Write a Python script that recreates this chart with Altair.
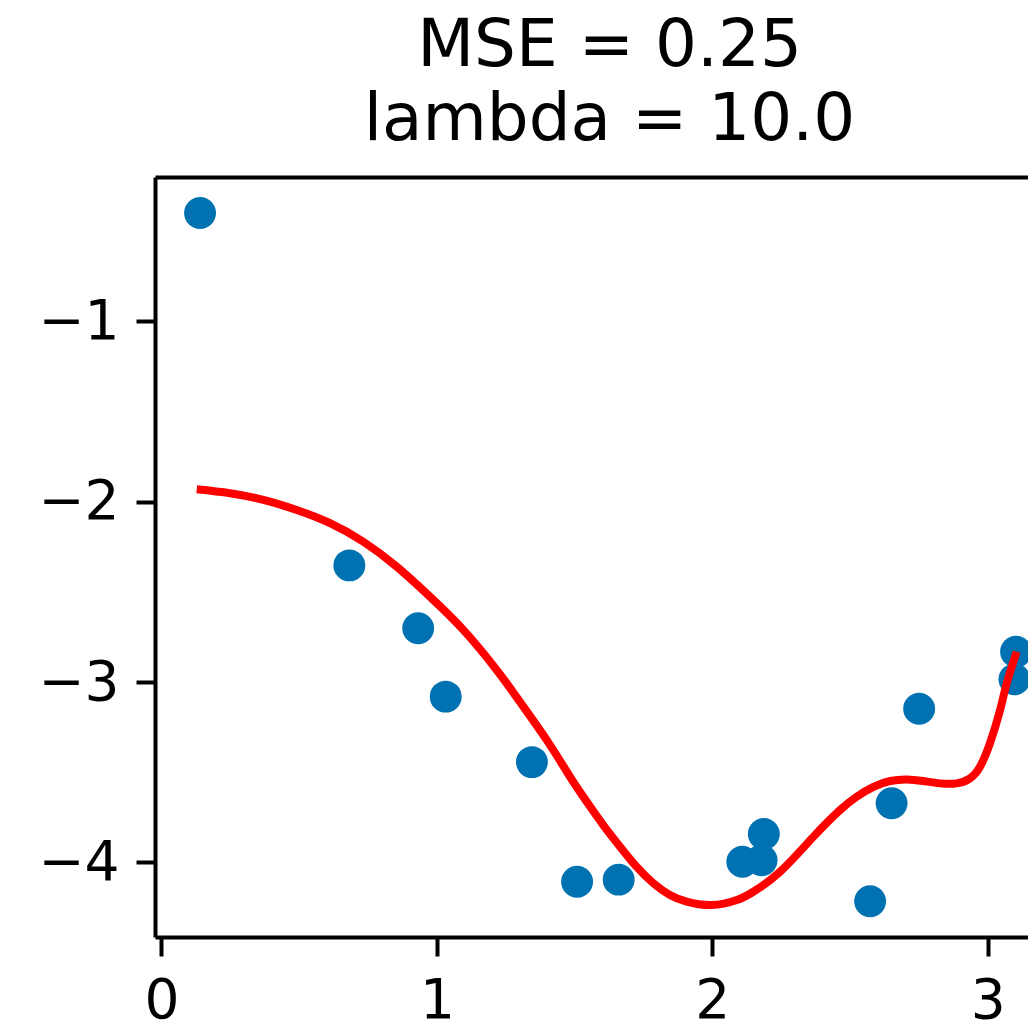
import altair as alt
import pandas as pd

# scatter points
pt_x = [0.140, 0.682, 0.932, 1.032, 1.345, 1.509, 1.660, 2.109, 2.187, 2.179,
        2.573, 2.651, 2.751, 3.103, 3.097]
pt_y = [-0.399, -2.353, -2.702, -3.081, -3.444, -4.108, -4.096, -3.997, -3.843, -3.988,
        -4.216, -3.672, -3.148, -2.832, -2.985]

# fitted curve
cv_x = [0.128, 0.249, 0.370, 0.491, 0.612, 0.733, 0.854, 0.975, 1.096, 1.217, 1.290,
        1.399, 1.483, 1.544, 1.604, 1.665, 1.725, 1.786, 1.846, 1.907, 1.998, 2.089,
        2.149, 2.246, 2.366, 2.464, 2.524, 2.585, 2.646, 2.706, 2.766, 2.827, 2.887,
        2.936, 2.972, 3.008, 3.045, 3.069, 3.105]
cv_y = [-1.931, -1.953, -1.990, -2.046, -2.119, -2.222, -2.360, -2.527, -2.711, -2.933,
        -3.085, -3.322, -3.525, -3.664, -3.793, -3.913, -4.024, -4.116, -4.181, -4.218,
        -4.237, -4.209, -4.163, -4.052, -3.860, -3.710, -3.636, -3.581, -3.549, -3.540,
        -3.549, -3.562, -3.562, -3.534, -3.470, -3.340, -3.155, -3.007, -2.832]

x_ticks = [0, 1, 2, 3]
y_ticks = [-1, -2, -3, -4]
title_lines = ["MSE = 0.25", "lambda = 10.0"]

x_domain = [-0.0236, 3.1463]
y_domain = [-4.414, -0.199]

pts = pd.DataFrame({"x": pt_x, "y": pt_y})
crv = pd.DataFrame({"x": cv_x, "y": cv_y})

FONT = "DejaVu Sans"

x_scale = alt.Scale(domain=x_domain, nice=False, zero=False)
y_scale = alt.Scale(domain=y_domain, nice=False, zero=False)

x_axis = alt.Axis(values=x_ticks, format="d", grid=False, domain=True, domainColor="black",
                  domainWidth=4, ticks=True, tickColor="black", tickWidth=4, tickSize=19,
                  labelFont=FONT, labelFontSize=55, labelColor="black", labelPadding=18,
                  labelFlush=False, labelOverlap=False, orient="bottom")
x_axis_top = alt.Axis(values=x_ticks, grid=False, domain=True, domainColor="black",
                      domainWidth=4, ticks=False, labels=False, orient="top")
y_axis = alt.Axis(values=y_ticks, format="d", grid=False, domain=True, domainColor="black",
                  domainWidth=4, ticks=True, tickColor="black", tickWidth=4, tickSize=19,
                  labelFont=FONT, labelFontSize=55, labelColor="black", labelPadding=17,
                  labelFlush=False, labelOverlap=False, orient="left")

points = alt.Chart(pts).mark_circle(size=1018, color="#0072b2", opacity=1).encode(
    x=alt.X("x:Q", scale=x_scale, axis=x_axis, title=None),
    y=alt.Y("y:Q", scale=y_scale, axis=y_axis, title=None),
)

line = alt.Chart(crv).mark_line(color="#ff0000", strokeWidth=8, interpolate="natural").encode(
    x=alt.X("x:Q", scale=x_scale, axis=x_axis_top, title=None),
    y=alt.Y("y:Q", scale=y_scale, title=None),
)

chart = alt.layer(points, line).resolve_axis(x="independent").properties(
    width=873,
    height=760,
    autosize=alt.AutoSizeParams(type="none"),
    padding={"left": 147, "top": 169, "right": 0, "bottom": 88},
    title=alt.TitleParams(
        text=title_lines, font=FONT, fontSize=66, fontWeight="normal", color="black",
        anchor="middle", lineHeight=74, baseline="bottom", offset=18, dx=18, dy=61,
    ),
).configure_view(strokeWidth=0)

chart.save("out.html", embed_options={"renderer": "svg", "actions": False})
